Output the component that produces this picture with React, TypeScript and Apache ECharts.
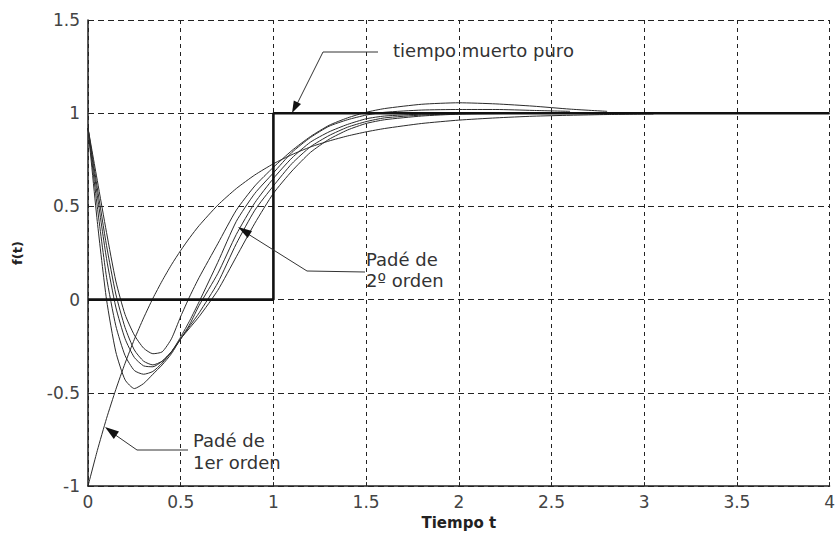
import React, { useEffect, useRef } from "react";
import * as echarts from "echarts";

// time samples (s)
const T = [0, 0.05, 0.1, 0.15, 0.2, 0.25, 0.3, 0.35, 0.4, 0.45, 0.5, 0.55, 0.6, 0.7, 0.8, 0.9, 1.0, 1.1, 1.2, 1.3, 1.4, 1.5, 1.6, 1.8, 2.0, 2.2, 2.4, 2.6, 2.8, 3.05];

// pure dead time (step delayed 1 s)
const stepT = [0, 1, 1, 4];
const stepV = [0, 0, 1, 1];

// Padé 1st order
const pade1 = [-1, -0.81, -0.637, -0.482, -0.341, -0.213, -0.098, 0.007, 0.101, 0.187, 0.264, 0.334, 0.398, 0.507, 0.596, 0.669, 0.729, 0.778, 0.819, 0.851, 0.878, 0.9, 0.918, 0.945, 0.963, 0.975, 0.984, 0.989, 0.993, 0.996];

// higher-order Padé responses
const curveA = [0.92, 0.42, 0.0, -0.28, -0.43, -0.477, -0.45, -0.4, -0.35, -0.29, -0.21, -0.15, -0.09, 0.05, 0.23, 0.41, 0.57, 0.69, 0.79, 0.86, 0.91, 0.945, 0.965, 0.985, 0.995, 0.998, 1.0, 1.0, 1.0];
const curveB = [0.92, 0.5, 0.12, -0.14, -0.3, -0.38, -0.4, -0.385, -0.34, -0.28, -0.21, -0.14, -0.07, 0.09, 0.3, 0.48, 0.61, 0.73, 0.82, 0.88, 0.925, 0.955, 0.975, 0.99, 0.997, 1.0, 1.0];
const curveC = [0.92, 0.56, 0.22, -0.04, -0.21, -0.31, -0.355, -0.36, -0.33, -0.28, -0.21, -0.13, -0.03, 0.14, 0.35, 0.52, 0.65, 0.76, 0.845, 0.9, 0.94, 0.97, 0.985, 0.995, 1.0, 1.0];
const curveD = [0.92, 0.6, 0.29, 0.03, -0.15, -0.27, -0.33, -0.35, -0.33, -0.28, -0.2, -0.11, -0.01, 0.2, 0.42, 0.57, 0.68, 0.79, 0.87, 0.93, 0.965, 0.99, 1.005, 1.017, 1.02, 1.02, 1.015, 1.01];
const curveE = [0.92, 0.64, 0.36, 0.1, -0.08, -0.19, -0.26, -0.29, -0.28, -0.21, -0.09, 0.02, 0.12, 0.3, 0.48, 0.61, 0.71, 0.8, 0.875, 0.935, 0.975, 1.005, 1.025, 1.048, 1.056, 1.05, 1.038, 1.022, 1.01];

const xTicks = [0, 0.5, 1, 1.5, 2, 2.5, 3, 3.5, 4];
const yTicks = [-1, -0.5, 0, 0.5, 1, 1.5];

const FONT = "DejaVu Sans";

function pairs(ts: number[], vs: number[]) {
  return vs.map((v, i) => [ts[i], v]);
}

export default function App() {
  const ref = useRef<HTMLDivElement>(null);
  useEffect(() => {
    if (!ref.current) return;
    const chart = echarts.init(ref.current, null, { renderer: "svg" });
    const thin = (name: string, vals: number[]) => ({
      name,
      type: "line",
      data: pairs(T, vals),
      showSymbol: false,
      smooth: 0.2,
      lineStyle: { color: "#2b2b2b", width: 1 },
      z: 3,
    });
    chart.setOption({
      animation: false,
      backgroundColor: "#ffffff",
      grid: { left: 88, right: 5, top: 20, bottom: 48, containLabel: false },
      xAxis: {
        type: "value",
        min: xTicks[0],
        max: xTicks[xTicks.length - 1],
        interval: 0.5,
        name: "Tiempo t",
        nameLocation: "middle",
        nameGap: 26,
        nameTextStyle: { fontFamily: FONT, fontWeight: "bold", fontSize: 15, color: "#222" },
        axisLine: { show: true, onZero: false, lineStyle: { color: "#222", width: 1.5 } },
        axisTick: { show: true, inside: true, length: 4, lineStyle: { color: "#222" } },
        axisLabel: { fontFamily: FONT, fontSize: 17, color: "#444", margin: 7 },
        splitLine: { show: true, lineStyle: { color: "#222", type: [4, 4], width: 1 } },
      },
      yAxis: {
        type: "value",
        min: yTicks[0],
        max: yTicks[yTicks.length - 1],
        interval: 0.5,
        name: "f(t)",
        nameLocation: "middle",
        nameRotate: 90,
        nameGap: 64,
        nameTextStyle: { fontFamily: FONT, fontWeight: "bold", fontSize: 13, color: "#222" },
        axisLine: { show: true, onZero: false, lineStyle: { color: "#222", width: 1.5 } },
        axisTick: { show: true, inside: true, length: 4, lineStyle: { color: "#222" } },
        axisLabel: { fontFamily: FONT, fontSize: 17, color: "#444", margin: 8 },
        splitLine: { show: true, lineStyle: { color: "#222", type: [6, 4], width: 1 } },
      },
      series: [
        thin("Padé 1er orden", pade1),
        thin("A", curveA),
        thin("B", curveB),
        thin("C", curveC),
        thin("D", curveD),
        thin("E", curveE),
        {
          name: "tiempo muerto puro",
          type: "line",
          data: pairs(stepT, stepV),
          showSymbol: false,
          lineStyle: { color: "#111", width: 2.6 },
          z: 4,
        },
      ],
      graphic: [
        // tiempo muerto puro
        { type: "text", left: 393, top: 41, style: { text: "tiempo muerto puro", fontFamily: FONT, fontSize: 18, fill: "#333" }, z: 10 },
        { type: "polyline", shape: { points: [[378, 52], [323, 52], [296, 106]] }, style: { stroke: "#333", lineWidth: 1, fill: null }, z: 10 },
        { type: "polygon", shape: { points: [[292, 113], [301, 104], [293.8, 100.5]] }, style: { fill: "#111" }, z: 10 },
        // Padé de 2º orden
        { type: "text", left: 366, top: 249, style: { text: "Padé de\n2º orden", fontFamily: FONT, fontSize: 18, lineHeight: 21, fill: "#333" }, z: 10 },
        { type: "polyline", shape: { points: [[365, 272], [307, 271], [248, 234]] }, style: { stroke: "#333", lineWidth: 1, fill: null }, z: 10 },
        { type: "polygon", shape: { points: [[238, 227], [252, 231], [247.6, 238]] }, style: { fill: "#111" }, z: 10 },
        // Padé de 1er orden
        { type: "text", left: 193, top: 429, style: { text: "Padé de\n1er orden", fontFamily: FONT, fontSize: 18, lineHeight: 22, fill: "#333", align: "right" }, z: 10 },
        { type: "polyline", shape: { points: [[188, 450], [137, 450], [114, 434]] }, style: { stroke: "#333", lineWidth: 1, fill: null }, z: 10 },
        { type: "polygon", shape: { points: [[105, 427], [119, 431.5], [113.8, 439]] }, style: { fill: "#111" }, z: 10 },
      ],
    });
    return () => chart.dispose();
  }, []);
  return <div ref={ref} style={{ position: "fixed", left: 0, top: 0, width: 838, height: 535 }} />;
}
